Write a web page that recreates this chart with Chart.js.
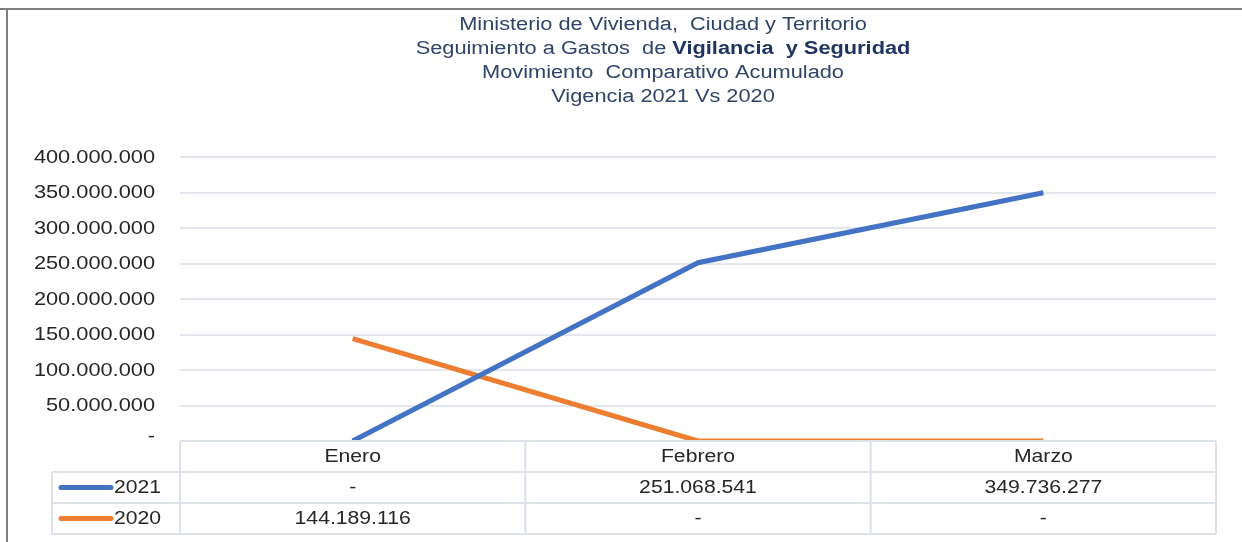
<!DOCTYPE html>
<html>
<head>
<meta charset="utf-8">
<script src="https://cdn.jsdelivr.net/npm/chart.js@4"></script>
<style>
  html, body { margin: 0; padding: 0; background: #fff; }
  #chart { display: block; }
</style>
</head>
<body>
<canvas id="chart" width="1242" height="542"></canvas>
<script>
// datos del grafico
const meses = ['Enero', 'Febrero', 'Marzo'];
const valores2021 = [0, 251068541, 349736277];
const valores2020 = [144189116, 0, 0];
const seriesNombres = ['2021', '2020'];
const yTicks = [0, 50000000, 100000000, 150000000, 200000000, 250000000, 300000000, 350000000, 400000000];

const colores = ['#4472C4', '#ED7D31'];
const FONT = '"Liberation Sans", Arial, sans-serif';
const SX = 1.21; // el texto del original esta algo estirado a lo ancho

const fmt = v => v === 0 ? '-' : v.toString().replace(/\B(?=(\d{3})+(?!\d))/g, '.');

// texto estirado en horizontal
function drawText(ctx, text, x, y, align, font, color) {
    ctx.save();
    ctx.font = font;
    ctx.fillStyle = color;
    ctx.textBaseline = 'middle';
    ctx.textAlign = align;
    ctx.translate(x, y);
    ctx.scale(SX, 1);
    ctx.fillText(text, 0, 0);
    ctx.restore();
}

// titulo, marco, etiquetas del eje y tabla de datos
const extrasPlugin = {
    id: 'extras',
    beforeDraw: (chart) => {
        const ctx = chart.ctx;
        ctx.save();
        ctx.fillStyle = '#fff';
        ctx.fillRect(0, 0, chart.width, chart.height);
        ctx.strokeStyle = '#7F7F7F';
        ctx.lineWidth = 2;
        ctx.beginPath();
        ctx.moveTo(0, 9);
        ctx.lineTo(chart.width, 9);
        ctx.moveTo(7, 9);
        ctx.lineTo(7, chart.height);
        ctx.stroke();
        ctx.restore();
    },
    afterDraw: (chart) => {
        const ctx = chart.ctx;
        const area = chart.chartArea;
        const x = chart.scales.x;
        const y = chart.scales.y;
        const cx = 663;
        const tColor = '#2E4468';
        const f18 = '18px ' + FONT;

        drawText(ctx, 'Ministerio de Vivienda,  Ciudad y Territorio', cx, 25, 'center', f18, tColor);
        drawText(ctx, 'Movimiento  Comparativo Acumulado', cx, 73, 'center', f18, tColor);
        drawText(ctx, 'Vigencia 2021 Vs 2020', cx, 97, 'center', f18, tColor);

        // linea con parte en negrita
        const a = 'Seguimiento a Gastos  de ';
        const b = 'Vigilancia  y Seguridad';
        ctx.save();
        ctx.font = f18;
        const wa = ctx.measureText(a).width * SX;
        ctx.font = 'bold ' + f18;
        const wb = ctx.measureText(b).width * SX;
        ctx.restore();
        const x0 = cx - (wa + wb) / 2;
        drawText(ctx, a, x0, 49, 'left', f18, tColor);
        drawText(ctx, b, x0 + wa, 49, 'left', 'bold ' + f18, '#1F3460');

        // etiquetas del eje Y
        yTicks.forEach(v => {
            const py = y.getPixelForValue(v) + (v === 0 ? -4 : 1);
            drawText(ctx, fmt(v), 155, py, 'right', '18px ' + FONT, '#262626');
        });

        // tabla de datos
        const rowH = 31;
        const top = area.bottom;
        const legL = 52;
        const step = x.getPixelForValue(1) - x.getPixelForValue(0);
        const bounds = meses.map((m, i) => x.getPixelForValue(i) - step / 2);
        bounds.push(x.getPixelForValue(meses.length - 1) + step / 2);

        ctx.save();
        ctx.strokeStyle = '#DCE1EA';
        ctx.lineWidth = 2;
        ctx.beginPath();
        ctx.moveTo(area.left, top);
        ctx.lineTo(area.right, top);
        for (let r = 1; r <= 3; r++) {
            ctx.moveTo(legL, top + r * rowH);
            ctx.lineTo(area.right, top + r * rowH);
        }
        bounds.forEach(bx => {
            ctx.moveTo(bx, top);
            ctx.lineTo(bx, top + 3 * rowH);
        });
        ctx.moveTo(legL, top + rowH);
        ctx.lineTo(legL, top + 3 * rowH);
        ctx.stroke();
        ctx.restore();

        const f17 = '17.5px ' + FONT;
        meses.forEach((m, i) => {
            drawText(ctx, m, x.getPixelForValue(i), top + rowH / 2 + 1, 'center', f17, '#262626');
        });
        [valores2021, valores2020].forEach((serie, s) => {
            const py = top + rowH * (s + 1) + rowH / 2 + 1;
            serie.forEach((v, i) => {
                drawText(ctx, fmt(v), x.getPixelForValue(i), py, 'center', f17, '#262626');
            });
            // clave de leyenda
            ctx.save();
            ctx.strokeStyle = colores[s];
            ctx.lineWidth = 5;
            ctx.lineCap = 'round';
            ctx.beginPath();
            ctx.moveTo(61, py - 1);
            ctx.lineTo(111, py - 1);
            ctx.stroke();
            ctx.restore();
            drawText(ctx, seriesNombres[s], 114, py, 'left', f17, '#262626');
        });
    }
};

new Chart(document.getElementById('chart'), {
    type: 'line',
    data: {
        labels: meses,
        datasets: [
            { label: seriesNombres[0], data: valores2021, borderColor: colores[0], backgroundColor: colores[0] },
            { label: seriesNombres[1], data: valores2020, borderColor: colores[1], backgroundColor: colores[1] }
        ]
    },
    options: {
        responsive: false,
        animation: false,
        layout: { padding: { top: 157, right: 26, bottom: 101, left: 8 } },
        elements: {
            line: { borderWidth: 5, tension: 0, borderCapStyle: 'butt' },
            point: { radius: 0, hoverRadius: 0 }
        },
        plugins: {
            legend: { display: false },
            title: { display: false },
            tooltip: { enabled: false }
        },
        scales: {
            x: {
                display: false,
                offset: true
            },
            y: {
                min: 0,
                max: 400000000,
                afterFit: s => { s.width = 172; },
                afterBuildTicks: s => { s.ticks = yTicks.map(v => ({ value: v })); },
                border: { display: false },
                grid: { color: '#E3E6EC', lineWidth: 2, drawTicks: false },
                ticks: { display: false }
            }
        }
    },
    plugins: [extrasPlugin]
});
</script>
</body>
</html>
